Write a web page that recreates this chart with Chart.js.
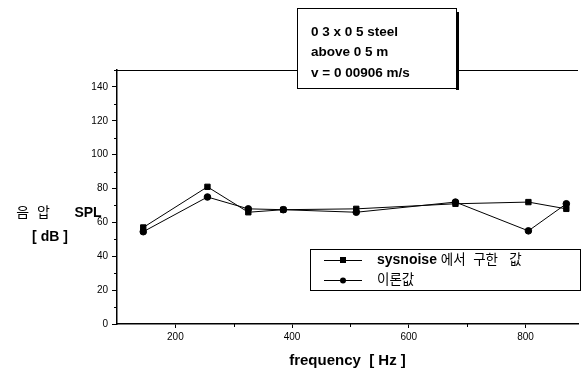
<!DOCTYPE html>
<html>
<head>
<meta charset="utf-8">
<script src="https://cdn.jsdelivr.net/npm/chart.js@4.4.0/dist/chart.umd.min.js"></script>
<style>
  html, body { margin: 0; padding: 0; background: #fff; }
  #wrap { width: 583px; height: 374px; position: relative; }
</style>
</head>
<body>
<div id="wrap"><canvas id="spl"></canvas></div>
<script>
// frequency points [Hz]
var freqs = [145, 255, 325, 385, 510, 680, 805, 870];
// SPL computed with sysnoise [dB]
var splSysnoise = [57, 81, 66, 67.5, 68, 71, 72, 68];
// SPL from theory [dB]
var splTheory = [54.5, 75, 68, 67.5, 66, 72, 55, 71];

var yTicks = [0, 20, 40, 60, 80, 100, 120, 140];
var xTicks = [200, 400, 600, 800];
var seriesNames = ['sysnoise 에서  구한   값', '이론값'];
var noteLines = ['0 3 x 0 5 steel', 'above 0 5 m', 'v = 0 00906 m/s'];

var FONT = "'Liberation Sans', 'Noto Sans CJK KR', sans-serif";

function pts(xs, ys) {
    return xs.map(function (x, i) { return { x: x, y: ys[i] }; });
}

// latin runs bold, hangul runs regular
function drawMixed(ctx, text, x, y) {
    var parts = text.match(/[A-Za-z0-9 ]+|[^A-Za-z0-9 ]+/g) || [];
    parts.forEach(function (p) {
        ctx.font = (/[A-Za-z]/.test(p) ? 'bold 14px ' : '13.5px ') + FONT;
        ctx.fillText(p, x, y);
        x += ctx.measureText(p).width;
    });
}

var decorations = {
    id: 'decorations',
    afterDraw: function (chart) {
        var ctx = chart.ctx;
        var area = chart.chartArea;
        var xs = chart.scales.x, ys = chart.scales.y;
        ctx.save();
        ctx.strokeStyle = '#000';
        ctx.fillStyle = '#000';

        // top frame line
        ctx.lineWidth = 1;
        ctx.beginPath();
        ctx.moveTo(area.left, area.top + 0.5);
        ctx.lineTo(area.right, area.top + 0.5);
        ctx.stroke();

        // minor ticks on y
        for (var v = 10; v <= 150; v += 20) {
            var py = Math.round(ys.getPixelForValue(v)) + 0.5;
            ctx.beginPath();
            ctx.moveTo(area.left - 3, py);
            ctx.lineTo(area.left, py);
            ctx.stroke();
        }
        // minor ticks on x
        [300, 500, 700].forEach(function (f) {
            var px = Math.round(xs.getPixelForValue(f)) + 0.5;
            ctx.beginPath();
            ctx.moveTo(px, area.bottom);
            ctx.lineTo(px, area.bottom + 3);
            ctx.stroke();
        });

        // y axis title
        ctx.textAlign = 'center';
        ctx.textBaseline = 'middle';
        ctx.font = '14px ' + FONT;
        ctx.fillText('음  압', 33, 213);
        ctx.font = 'bold 14px ' + FONT;
        ctx.fillText('SPL', 88, 213);
        ctx.fillText('[ dB ]', 50, 237);

        // note box with shadow
        var bx = 297, by = 8, bw = 159, bh = 80;
        ctx.fillStyle = '#000';
        ctx.fillRect(bx + bw, by + 4, 3, bh - 2);
        ctx.fillStyle = '#fff';
        ctx.fillRect(bx, by, bw, bh);
        ctx.strokeStyle = '#000';
        ctx.lineWidth = 1;
        ctx.strokeRect(bx + 0.5, by + 0.5, bw, bh);
        ctx.fillStyle = '#000';
        ctx.font = 'bold 13.5px ' + FONT;
        ctx.textAlign = 'left';
        ctx.textBaseline = 'middle';
        noteLines.forEach(function (t, i) {
            ctx.fillText(t, 311, 32 + i * 20.5);
        });

        // legend box
        var lx = 310, ly = 249, lw = 270, lh = 41;
        ctx.fillStyle = '#fff';
        ctx.fillRect(lx, ly, lw, lh);
        ctx.strokeRect(lx + 0.5, ly + 0.5, lw, lh);
        chart.data.datasets.forEach(function (ds, i) {
            var yy = 260 + i * 20;
            ctx.strokeStyle = '#000';
            ctx.lineWidth = 1;
            ctx.beginPath();
            ctx.moveTo(324, yy + 0.5);
            ctx.lineTo(362, yy + 0.5);
            ctx.stroke();
            ctx.fillStyle = '#000';
            if (ds.pointStyle === 'rect') {
                ctx.fillRect(340, yy - 3, 6, 6);
            } else {
                ctx.beginPath();
                ctx.arc(343, yy + 0.5, 3, 0, Math.PI * 2);
                ctx.fill();
            }
            ctx.textAlign = 'left';
            drawMixed(ctx, ds.label, 377, yy);
        });
        ctx.restore();
    }
};

new Chart(document.getElementById('spl'), {
    type: 'line',
    data: {
        datasets: [
            {
                label: seriesNames[0],
                data: pts(freqs, splSysnoise),
                borderColor: '#000',
                backgroundColor: '#000',
                borderWidth: 1,
                pointStyle: 'rect',
                pointRadius: 3.8,
                tension: 0
            },
            {
                label: seriesNames[1],
                data: pts(freqs, splTheory),
                borderColor: '#000',
                backgroundColor: '#000',
                borderWidth: 1,
                pointStyle: 'circle',
                pointRadius: 3.3,
                tension: 0
            }
        ]
    },
    options: {
        responsive: true,
        maintainAspectRatio: false,
        animation: false,
        layout: { padding: { top: 70, right: 0, left: 0, bottom: 0 } },
        plugins: {
            legend: { display: false },
            tooltip: { enabled: false }
        },
        scales: {
            x: {
                type: 'linear',
                min: 100,
                max: 890,
                afterBuildTicks: function (axis) {
                    axis.ticks = xTicks.map(function (v) { return { value: v }; });
                },
                afterFit: function (axis) { axis.height = 50; },
                grid: { display: true, drawOnChartArea: false, drawTicks: true, tickLength: 4, color: '#000' },
                border: { display: true, color: '#000', width: 1.5 },
                ticks: { color: '#000', font: { family: FONT, size: 10 }, padding: 3, maxRotation: 0 },
                title: {
                    display: true,
                    text: 'frequency  [ Hz ]',
                    color: '#000',
                    font: { family: FONT, size: 15, weight: 'bold' },
                    padding: { top: 2 }
                }
            },
            y: {
                min: 0,
                max: 150,
                afterBuildTicks: function (axis) {
                    axis.ticks = yTicks.map(function (v) { return { value: v }; });
                },
                afterFit: function (axis) { axis.width = 117; },
                grid: { display: true, drawOnChartArea: false, drawTicks: true, tickLength: 5, color: '#000' },
                border: { display: true, color: '#000', width: 1.5 },
                ticks: { color: '#000', font: { family: FONT, size: 10 }, padding: 4 }
            }
        }
    },
    plugins: [decorations]
});
</script>
</body>
</html>
